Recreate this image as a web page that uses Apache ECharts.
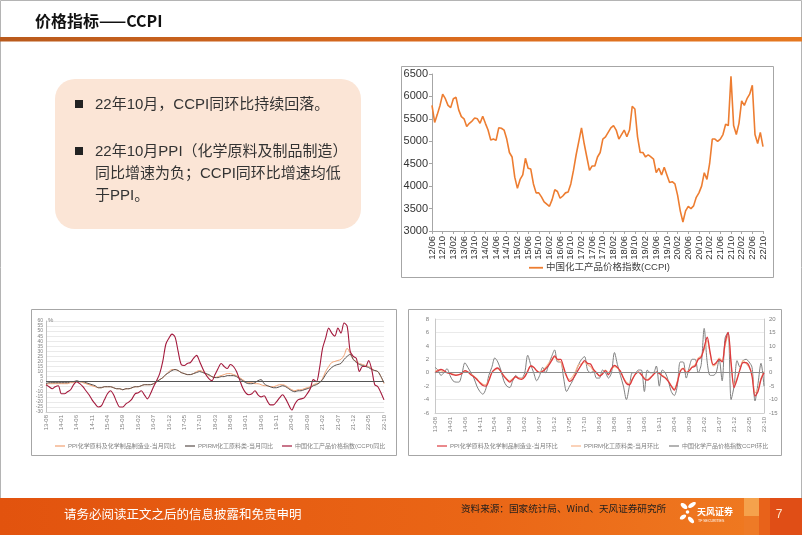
<!DOCTYPE html>
<html><head><meta charset="utf-8">
<script src="https://cdn.jsdelivr.net/npm/echarts@6/dist/echarts.min.js"></script>
<style>html,body{margin:0;padding:0;background:#fff;}#c{width:802px;height:535px;}</style>
</head><body><div id="c"></div>
<script>
const FONT = "'Liberation Sans','Noto Sans CJK SC',sans-serif";
const CJK = "'Noto Sans CJK SC','Liberation Sans',sans-serif";

function monthLabels(y0, m0, y1, m1, sep) {
  const out = []; let y = y0, m = m0;
  while (y < y1 || (y === y1 && m <= m1)) {
    out.push(String(y % 100).padStart(2, '0') + sep + String(m).padStart(2, '0'));
    m++; if (m > 12) { m = 1; y++; }
  }
  return out;
}

// ---- Top chart: CCPI index, monthly 2012/06 - 2022/10 ----
const ccpiMonths = monthLabels(2012, 6, 2022, 10, '/');
const ccpiIndex = [
  5800, 5420, 5600, 5800, 6050, 5950, 5800,
  5750, 5950, 5980, 5700, 5550, 5500, 5330, 5400, 5450, 5520, 5500, 5400,
  5560, 5400, 5250, 5030, 5050, 5020, 5300, 5290, 5250, 5050, 4750, 4650,
  4200, 3950, 4150, 4250, 4620, 4400, 4380, 4050, 3850, 3850, 3760, 3650,
  3600, 3550, 3700, 3920, 3880, 3730, 3780, 3850, 3870, 4050, 4350, 4700,
  5000, 5300, 4950, 4650, 4350, 4450, 4450, 4650, 4750, 5050, 5100, 5200,
  5300, 5350, 5250, 5050, 5150, 5250, 5100, 5250, 5780, 5720, 5100, 4750,
  4750, 4650, 4700, 4650, 4600, 4300, 4400, 4250, 4420, 4250, 4080, 4100,
  4050, 3800, 3450, 3200, 3450, 3550, 3500, 3560, 3750, 3850, 4000, 4300,
  4150, 4500, 5050, 5050, 5000, 5050, 5150, 5380, 5350, 6450, 5350, 5150,
  5400, 5900, 5800, 5950, 6050, 6250, 5150, 4950, 5200, 4880
];

// ---- Bottom charts: monthly 2013-08 - 2022-10 ----
const yoyMonths = monthLabels(2013, 8, 2022, 10, '-');
const ppiYoY = [
  -3, -2, -2, -2, -2,
  -2, -2, -2, -1, -1, 0, 0, -1, -2, -3, -4, -5,
  -6, -6, -5, -5, -5, -6, -7, -7, -8, -7, -7, -6,
  -5, -5, -4, -3, -3, -3, -2, 0, 2, 4, 7, 10,
  12, 12, 11, 9, 8, 7, 7, 8, 10, 11, 10, 8,
  6, 5, 4, 5, 6, 7, 8, 8, 7, 6, 4, 2,
  0, -1, -1, -2, -2, -3, -4, -4, -5, -5, -4, -3,
  -3, -4, -6, -8, -9, -8, -8, -7, -6, -5, -3, -2,
  -1, 3, 10, 15, 19, 20, 21, 22, 26, 33, 28, 22,
  20, 18, 17, 16, 15, 13, 11, 10, 5, -2
];
const ppirmYoY = [
  -2, -1, -1, -1, -1,
  -1, -1, -1, 0, 0, 1, 0, 0, -1, -2, -3, -4,
  -6, -6, -5, -5, -5, -6, -7, -7, -8, -7, -7, -6,
  -5, -5, -4, -3, -3, -3, -2, 0, 2, 4, 7, 9,
  11, 12, 11, 9, 8, 7, 7, 8, 9, 10, 9, 8,
  7, 5, 4, 4, 5, 5, 6, 6, 6, 5, 3, 1,
  -1, -2, -2, -1, 1, 2, -2, -4, -5, -6, -6, -5,
  -4, -5, -7, -9, -10, -9, -9, -8, -7, -6, -4, -3,
  -1, 2, 7, 11, 14, 16, 17, 18, 22, 25, 27, 22,
  19, 17, 16, 15, 14, 12, 11, 10, 5, -1
];
const ccpiYoY = [
  -3, -5, -7, -5, -4,
  -12, -12, -10, -8, -3, 0, -2, -5, -9, -13, -18, -22,
  -25, -24, -18, -12, -9, -13, -20, -25, -25, -22, -20, -17,
  -12, -11, -9, -13, -17, -12, -5, 1, 8, 20, 37, 43,
  47, 44, 30, 17, 16, 18, 19, 23, 26, 20, 13, 7,
  3, 1, 7, 13, 18, 15, 13, 17, 15, 10, 2, -6,
  -11, -13, -12, -9, -13, -15, -14, -19, -23, -23, -20, -16,
  -13, -17, -23, -28, -22, -18, -17, -16, -12, -7, 2, 0,
  13, 33, 43, 53, 48, 45, 53, 48, 58, 55, 30, 25,
  23, 10, 15, 15, 21, 12, -3, -5, -11, -18
];
const ppiMoM = [
  0.0, 0.3, 0.5, 0.3, 0.0,
  -0.1, -0.3, -0.4, -0.3, -0.1, 0.3, 0.1, -0.3, -0.6, -1.0, -1.5, -1.9,
  -2.0, -1.2, 0.0, 0.5, 0.7, 0.2, -0.5, -1.0, -1.4, -1.0, -0.6, -0.9,
  -1.0, -0.6, 0.2, 1.0, 0.8, 0.3, 0.0, 0.2, 0.6, 1.1, 1.8, 2.5,
  2.0, 2.0, 0.8, -0.5, -1.3, -1.0, -0.3, 0.5, 1.2, 1.8, 1.4, 1.3,
  0.5, 0.0, -0.5, -0.2, 0.3, -0.3, 0.6, 1.1, 0.8, 0.2, -0.8, -1.6,
  -1.8, -1.0, -0.2, 0.1, -0.3, -0.9, -1.1, -0.8, -0.3, 0.1, -0.1, -0.5,
  -0.8, -1.3, -2.0, -2.6, -1.5, 0.2, 0.6, 0.0, 0.3, 0.8, 1.0, 2.0,
  2.3, 3.8, 5.3, 3.0, 1.2, 1.5, 2.0, 1.6, 4.5, 6.0, 1.5, -2.2,
  -1.0, 0.5, 1.5, 1.5, 1.0, -0.5, -3.5, -2.8, -1.0, 0.0
];
const ppirmMoM = [
  0.2, 0.4, 0.3, 0.1, 0.0,
  0.0, -0.2, -0.3, -0.3, -0.1, 0.2, 0.1, -0.2, -0.5, -0.9, -1.4, -1.7,
  -1.8, -1.0, 0.0, 0.4, 0.6, 0.2, -0.4, -0.9, -1.2, -0.9, -0.6, -0.8,
  -0.9, -0.5, 0.3, 1.0, 0.8, 0.3, 0.1, 0.3, 0.8, 1.4, 2.0, 2.3,
  1.9, 1.6, 0.5, -0.6, -1.0, -0.6, 0.2, 1.2, 1.3, 1.6, 1.2, 0.9,
  0.3, -0.1, -0.4, -0.1, 0.4, 0.0, 0.5, 0.9, 0.7, 0.2, -0.7, -1.4,
  -1.6, -0.9, -0.2, 0.1, -0.2, -0.8, -1.0, -0.7, -0.3, 0.1, -0.1, -0.4,
  -0.7, -1.2, -1.9, -2.4, -1.3, 0.3, 0.7, 0.1, 0.4, 0.9, 1.2, 2.2,
  2.5, 3.4, 4.8, 2.8, 1.0, 1.3, 2.2, 1.8, 4.0, 5.5, 1.2, -1.8,
  -0.8, 0.6, 1.8, 1.4, 0.8, -0.2, -3.0, -2.5, -0.8, 0.2
];
const ccpiMoM = [
  2.0, 1.0, -1.0, 0.0, 1.5,
  -1.0, -3.0, -3.5, -3.5, -0.5, 3.7, 2.0, 0.0, -2.0, -5.0, -7.0, -8.0,
  -6.0, -1.0, 2.0, 5.5, 4.0, 1.0, -3.0, -5.0, -5.5, -3.0, -1.0, -2.0,
  -2.0, 0.0, 6.5, 3.0, 0.0, -3.0, -1.0, 2.0, 0.0, 3.0, 6.0, 8.5,
  4.0, 4.0, -2.0, -7.0, -5.0, -3.0, 0.0, 3.0, 5.0, 6.0, 1.0, 0.0,
  0.5, -2.0, -2.0, 1.0, 0.0, -2.0, 0.0, 7.5, 3.0, -1.0, -5.0, -10.0,
  -5.0, 0.0, 0.0, 1.0, 1.0, -7.0, 1.0, 0.0, 0.0, 2.5, -5.0, 1.0,
  0.0, -3.0, -7.0, -8.5, -5.0, 4.0, 4.0, -2.0, 2.0, 5.0, 5.0, 0.0,
  3.0, 16.5, 4.0, -1.0, -1.0, 0.0, 5.0, -3.0, 13.0, 15.0, -10.0, -5.0,
  4.5, 2.0, 4.5, 5.0, 4.0, 2.0, -10.5, -4.0, 3.5, -5.0
];

const chart = echarts.init(document.getElementById('c'), null, { renderer: 'canvas' });

const smallLabel = { fontFamily: FONT, color: '#7f7f7f' };
const plain = (v) => String(v);
const zeroLine = (color) => ({
  silent: true, symbol: 'none', label: { show: false },
  lineStyle: { color: color, width: 1, type: 'solid' },
  emphasis: { disabled: true },
  data: [{ yAxis: 0 }]
});
const smallLegend = (name, left) => ({
  data: [name], left: left, top: 438, icon: 'rect', itemWidth: 10, itemHeight: 1.2,
  textStyle: Object.assign({ fontSize: 6, padding: [0, 0, 0, -2] }, smallLabel)
});

const option = {
  animation: false,
  backgroundColor: '#ffffff',
  textStyle: { fontFamily: FONT },
  graphic: [
    // page frame
    { type: 'rect', z: 0, shape: { x: 0.5, y: 0.5, width: 801, height: 534 }, style: { fill: 'none', stroke: '#b4b4b4', lineWidth: 1 } },
    // title
    { type: 'text', z: 5, style: { text: '价格指标——CCPI', x: 35, y: 21, fontSize: 16, fontWeight: 'bold', fontFamily: CJK, fill: '#111', verticalAlign: 'middle' } },
    { type: 'rect', z: 5, shape: { x: 0, y: 37, width: 802, height: 4.5 },
      style: { fill: new echarts.graphic.LinearGradient(0, 0, 1, 0, [{ offset: 0, color: '#b95a1c' }, { offset: 0.5, color: '#d8691e' }, { offset: 1, color: '#e57820' }]) } },
    // text box
    { type: 'rect', z: 1, shape: { x: 55, y: 79, width: 306, height: 150, r: 20 }, style: { fill: '#fbe5d6' } },
    { type: 'text', z: 5, style: { text: '■', x: 74, y: 104.5, fontSize: 10, fontFamily: CJK, fill: '#222', verticalAlign: 'middle' } },
    { type: 'text', z: 5, style: { text: '22年10月，CCPI同环比持续回落。', x: 95, y: 104.5, fontSize: 15, fontFamily: FONT, fill: '#333', verticalAlign: 'middle' } },
    { type: 'text', z: 5, style: { text: '■', x: 74, y: 151.5, fontSize: 10, fontFamily: CJK, fill: '#222', verticalAlign: 'middle' } },
    { type: 'text', z: 5, style: { text: '22年10月PPI（化学原料及制品制造）', x: 95, y: 151.5, fontSize: 15, fontFamily: FONT, fill: '#333', verticalAlign: 'middle' } },
    { type: 'text', z: 5, style: { text: '同比增速为负；CCPI同环比增速均低', x: 95, y: 173.5, fontSize: 15, fontFamily: FONT, fill: '#333', verticalAlign: 'middle' } },
    { type: 'text', z: 5, style: { text: '于PPI。', x: 95, y: 195.5, fontSize: 15, fontFamily: FONT, fill: '#333', verticalAlign: 'middle' } },
    // chart frames
    { type: 'rect', z: 1, shape: { x: 401.5, y: 66.5, width: 372, height: 211 }, style: { fill: 'none', stroke: '#a6a6a6', lineWidth: 1 } },
    { type: 'rect', z: 1, shape: { x: 31.5, y: 309.5, width: 365, height: 146 }, style: { fill: 'none', stroke: '#a6a6a6', lineWidth: 1 } },
    { type: 'rect', z: 1, shape: { x: 408.5, y: 309.5, width: 373, height: 146 }, style: { fill: 'none', stroke: '#a6a6a6', lineWidth: 1 } },
    { type: 'text', z: 5, style: { text: '%', x: 48, y: 320, fontSize: 6, fontFamily: FONT, fill: '#7f7f7f', verticalAlign: 'middle' } },
    // footer
    { type: 'rect', z: 1, shape: { x: 0, y: 498, width: 802, height: 37 },
      style: { fill: new echarts.graphic.LinearGradient(0, 0, 1, 0, [{ offset: 0, color: '#e2530e' }, { offset: 0.6, color: '#ea6616' }, { offset: 1, color: '#f07c22' }]) } },
    { type: 'rect', z: 2, shape: { x: 744, y: 498, width: 15, height: 18 }, style: { fill: '#f5a24c' } },
    { type: 'rect', z: 2, shape: { x: 744, y: 516, width: 15, height: 19 }, style: { fill: '#ee7a26' } },
    { type: 'rect', z: 2, shape: { x: 759, y: 498, width: 11, height: 37 }, style: { fill: '#e8621a' } },
    { type: 'rect', z: 2, shape: { x: 770, y: 498, width: 32, height: 37 }, style: { fill: '#e04e16' } },
    { type: 'text', z: 5, style: { text: '请务必阅读正文之后的信息披露和免责申明', x: 64, y: 514, fontSize: 12.5, fontFamily: CJK, fill: '#ffffff', verticalAlign: 'middle' } },
    { type: 'text', z: 5, style: { text: '资料来源：国家统计局、Wind、天风证券研究所', x: 461, y: 508, fontSize: 9.6, fontFamily: CJK, fill: '#1e1e1e', verticalAlign: 'middle' } },
    { type: 'ellipse', z: 5, shape: { cx: 684, cy: 506, rx: 4, ry: 2.2 }, rotation: -0.7, originX: 684, originY: 506, style: { fill: '#ffffff' } },
    { type: 'ellipse', z: 5, shape: { cx: 692, cy: 505, rx: 4.5, ry: 2 }, rotation: 0.6, originX: 692, originY: 505, style: { fill: '#ffffff' } },
    { type: 'ellipse', z: 5, shape: { cx: 683, cy: 517, rx: 3.6, ry: 2 }, rotation: 0.6, originX: 683, originY: 517, style: { fill: '#ffffff' } },
    { type: 'ellipse', z: 5, shape: { cx: 691, cy: 520, rx: 4, ry: 2 }, rotation: -0.8, originX: 691, originY: 520, style: { fill: '#ffffff' } },
    { type: 'circle', z: 5, shape: { cx: 687.5, cy: 512, r: 1.8 }, style: { fill: '#ffffff' } },
    { type: 'text', z: 5, style: { text: '天风证券', x: 697, y: 512, fontSize: 9, fontWeight: 'bold', fontFamily: CJK, fill: '#ffffff', verticalAlign: 'middle' } },
    { type: 'text', z: 5, style: { text: 'TF SECURITIES', x: 698, y: 521, fontSize: 3.5, fontFamily: FONT, fill: '#ffffff', verticalAlign: 'middle' } },
    { type: 'text', z: 5, style: { text: '7', x: 779, y: 515, fontSize: 12, fontFamily: FONT, fill: '#ffe6cc', align: 'center', verticalAlign: 'middle' } }
  ],
  grid: [
    { left: 432, top: 74, width: 331, height: 157 },
    { left: 46, top: 321, width: 338, height: 91 },
    { left: 435, top: 319, width: 329, height: 94 }
  ],
  xAxis: [
    { gridIndex: 0, type: 'category', data: ccpiMonths, boundaryGap: false,
      axisLine: { lineStyle: { color: '#a6a6a6' } },
      axisTick: { show: true, interval: 3, length: 3, lineStyle: { color: '#a6a6a6' } },
      axisLabel: { interval: 3, rotate: 90, fontSize: 9.5, color: '#333', fontFamily: FONT, margin: 5 } },
    { gridIndex: 1, type: 'category', data: yoyMonths, boundaryGap: false,
      axisLine: { onZero: false, lineStyle: { color: '#d0d0d0' } },
      axisTick: { show: false },
      axisLabel: Object.assign({ interval: 4, rotate: 90, fontSize: 6, margin: 3 }, smallLabel) },
    { gridIndex: 2, type: 'category', data: yoyMonths, boundaryGap: false,
      axisLine: { onZero: false, lineStyle: { color: '#d0d0d0' } },
      axisTick: { show: false },
      axisLabel: Object.assign({ interval: 4, rotate: 90, fontSize: 6, margin: 4 }, smallLabel) }
  ],
  yAxis: [
    { gridIndex: 0, type: 'value', min: 3000, max: 6500, interval: 500,
      axisLine: { show: true, lineStyle: { color: '#a6a6a6' } },
      axisTick: { show: true, length: 3, lineStyle: { color: '#a6a6a6' } },
      splitLine: { show: false },
      axisLabel: { fontSize: 11, color: '#333', fontFamily: FONT, margin: 4, formatter: plain } },
    { gridIndex: 1, type: 'value', min: -30, max: 60, interval: 5,
      axisLine: { show: true, lineStyle: { color: '#bfbfbf' } },
      axisTick: { show: false },
      splitLine: { show: true, lineStyle: { color: '#dcdcdc', width: 0.6 } },
      axisLabel: Object.assign({ fontSize: 5, margin: 3, formatter: plain }, smallLabel) },
    { gridIndex: 2, type: 'value', min: -6, max: 8, interval: 2,
      axisLine: { show: true, lineStyle: { color: '#c8c8c8' } },
      axisTick: { show: false },
      splitLine: { show: true, lineStyle: { color: '#dcdcdc', width: 0.6 } },
      axisLabel: Object.assign({ fontSize: 6, margin: 6, formatter: plain }, smallLabel) },
    { gridIndex: 2, type: 'value', min: -15, max: 20, interval: 5, position: 'right',
      axisLine: { show: true, lineStyle: { color: '#c8c8c8' } },
      axisTick: { show: false },
      splitLine: { show: false },
      axisLabel: Object.assign({ fontSize: 6, margin: 5, formatter: plain }, smallLabel) }
  ],
  legend: [
    { data: ['中国化工产品价格指数(CCPI)'], left: 524, top: 258, icon: 'rect', itemWidth: 14, itemHeight: 1.8,
      textStyle: { fontSize: 9.5, color: '#404040', fontFamily: FONT, padding: [0, 0, 0, -2] } },
    smallLegend('PPI化学原料及化学制品制造业-当月同比', 50),
    smallLegend('PPIRM化工原料类-当月同比', 180),
    smallLegend('中国化工产品价格指数(CCPI)同比', 277),
    smallLegend('PPI化学原料及化学制品制造业-当月环比', 432),
    smallLegend('PPIRM化工原料类-当月环比', 566),
    smallLegend('中国化学产品价格指数CCPI环比', 664)
  ],
  series: [
    { name: '中国化工产品价格指数(CCPI)', type: 'line', xAxisIndex: 0, yAxisIndex: 0, data: ccpiIndex,
      symbol: 'none', lineStyle: { color: '#ed7d31', width: 1.6 }, itemStyle: { color: '#ed7d31' } },

    { name: 'PPI化学原料及化学制品制造业-当月同比', type: 'line', xAxisIndex: 1, yAxisIndex: 1, data: ppiYoY,
      symbol: 'none', smooth: 0.3, lineStyle: { color: '#f2a273', width: 1 }, itemStyle: { color: '#f2a273' },
      markLine: zeroLine('#555555') },
    { name: 'PPIRM化工原料类-当月同比', type: 'line', xAxisIndex: 1, yAxisIndex: 1, data: ppirmYoY,
      symbol: 'none', smooth: 0.3, lineStyle: { color: '#5a4f4c', width: 1 }, itemStyle: { color: '#5a4f4c' } },
    { name: '中国化工产品价格指数(CCPI)同比', type: 'line', xAxisIndex: 1, yAxisIndex: 1, data: ccpiYoY,
      symbol: 'none', smooth: 0.3, lineStyle: { color: '#a3193c', width: 1.1 }, itemStyle: { color: '#a3193c' } },

    { name: '中国化学产品价格指数CCPI环比', type: 'line', xAxisIndex: 2, yAxisIndex: 3, data: ccpiMoM,
      symbol: 'none', smooth: 0.3, lineStyle: { color: '#808080', width: 1 }, itemStyle: { color: '#808080' },
      markLine: zeroLine('#8c8c8c') },
    { name: 'PPIRM化工原料类-当月环比', type: 'line', xAxisIndex: 2, yAxisIndex: 2, data: ppirmMoM,
      symbol: 'none', smooth: 0.3, lineStyle: { color: '#f7b48a', width: 1.1 }, itemStyle: { color: '#f7b48a' } },
    { name: 'PPI化学原料及化学制品制造业-当月环比', type: 'line', xAxisIndex: 2, yAxisIndex: 2, data: ppiMoM,
      symbol: 'none', smooth: 0.3, lineStyle: { color: '#dc3a3f', width: 1.3 }, itemStyle: { color: '#dc3a3f' } }
  ]
};
chart.setOption(option);
</script>
</body></html>
